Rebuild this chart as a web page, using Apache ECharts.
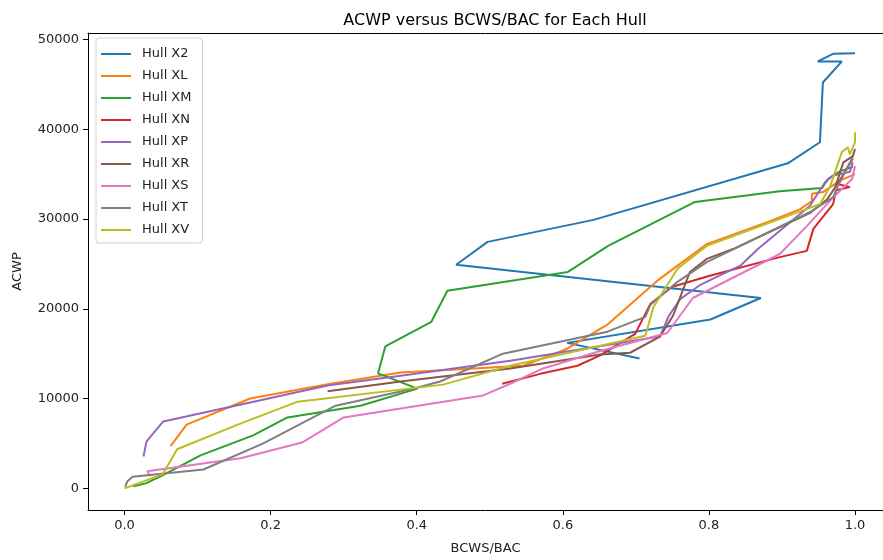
<!DOCTYPE html>
<html>
<head>
<meta charset="utf-8">
<script src="https://cdn.jsdelivr.net/npm/echarts@6/dist/echarts.min.js"></script>
<style>html,body{margin:0;padding:0;background:#fff}#chart{width:883px;height:560px}</style>
</head>
<body>
<div id="chart"></div>
<script>
var hullNames = ["Hull X2","Hull XL","Hull XM","Hull XN","Hull XP","Hull XR","Hull XS","Hull XT","Hull XV"];
var xTicks = [0, 0.2, 0.4, 0.6, 0.8, 1.0];
var yTicks = [0, 10000, 20000, 30000, 40000, 50000];

var hullX2 = [[0.705,14450],[0.606,16200],[0.802,18800],[0.871,21200],[0.454,24900],[0.497,27450],[0.642,29900],[0.908,36200],[0.952,38550],[0.956,45200],[0.982,47550],[0.949,47550],[0.97,48400],[1.0,48450]];
var hullXL = [[0.063,4700],[0.085,7100],[0.172,10000],[0.282,11650],[0.378,12900],[0.546,13650],[0.606,15550],[0.662,18300],[0.729,23100],[0.797,27200],[0.880,29650],[0.925,31100],[0.941,32000],[0.941,32800],[0.956,33000],[0.98,34300],[1.0,35000]];
var hullXM = [[0.012,220],[0.029,550],[0.052,1450],[0.104,3670],[0.176,5900],[0.223,7900],[0.323,9200],[0.401,11100],[0.347,12800],[0.357,15800],[0.420,18550],[0.442,22000],[0.607,24100],[0.662,27000],[0.781,31900],[0.897,33100],[0.955,33450],[0.963,34450],[0.979,35300],[0.997,35800]];
var hullXN = [[0.517,11650],[0.569,12750],[0.62,13650],[0.651,14800],[0.699,17200],[0.72,20550],[0.75,22450],[0.80,23650],[0.897,25750],[0.934,26450],[0.943,28900],[0.97,31650],[0.974,33200],[0.993,33550],[0.976,33900],[0.997,36700]];
var hullXP = [[0.026,3550],[0.03,5200],[0.053,7450],[0.186,9800],[0.278,11450],[0.378,12550],[0.528,14200],[0.733,16900],[0.745,19200],[0.761,21100],[0.788,22650],[0.843,24800],[0.867,26650],[0.938,31450],[0.959,34100],[0.969,34800],[0.993,35250],[0.997,36300]];
var hullXR = [[0.278,10800],[0.378,11900],[0.528,13350],[0.651,14900],[0.692,15100],[0.733,16900],[0.751,19250],[0.774,24100],[0.797,25550],[0.833,26650],[0.938,30650],[0.962,32200],[0.973,33550],[0.984,36300],[0.997,37000],[1.0,37800]];
var hullXS = [[0.036,1350],[0.031,1900],[0.159,3350],[0.243,5100],[0.30,7900],[0.491,10350],[0.528,11650],[0.573,13350],[0.651,15300],[0.743,17300],[0.778,21200],[0.897,26100],[0.934,29200],[0.97,32400],[0.996,34450],[1.0,35900]];
var hullXT = [[0.001,200],[0.004,800],[0.011,1300],[0.108,2100],[0.19,5000],[0.289,9200],[0.395,11100],[0.432,11900],[0.518,15000],[0.661,17450],[0.713,19100],[0.72,20450],[0.757,23000],[0.797,25200],[0.938,30750],[0.97,32400],[0.977,33750],[0.997,36900]];
var hullXV = [[0.0,0],[0.052,1550],[0.072,4350],[0.155,7100],[0.237,9650],[0.436,11550],[0.528,13650],[0.713,17000],[0.724,20200],[0.757,24450],[0.797,27000],[0.952,31650],[0.966,33650],[0.982,37450],[0.99,38000],[0.993,37200],[1.0,38550],[1.0,39650]];

var hullData = [hullX2, hullXL, hullXM, hullXN, hullXP, hullXR, hullXS, hullXT, hullXV];
var colors = ["#1f77b4","#ff7f0e","#2ca02c","#d62728","#9467bd","#8c564b","#e377c2","#7f7f7f","#bcbd22"];

var chart = echarts.init(document.getElementById('chart'), null, {renderer: 'canvas'});
var font = 'DejaVu Sans';
var series = hullNames.map(function(n, i){
  return {
    name: n, type: 'line', data: hullData[i], symbol: 'none', showSymbol: false,
    lineStyle: {width: 2, color: colors[i]}, itemStyle: {color: colors[i]},
    animation: false, z: 2 + i
  };
});
chart.setOption({
  animation: false,
  color: colors,
  title: {text: 'ACWP versus BCWS/BAC for Each Hull', left: 490, top: 8, textAlign: 'center',
    textStyle: {fontFamily: font, fontSize: 16, fontWeight: 'normal', color: '#000'}},
  grid: {left: 88, top: 33, right: 0, bottom: 48, show: false, containLabel: false},
  legend: {
    orient: 'vertical', left: 96, top: 38, data: hullNames,
    icon: 'rect', itemWidth: 30, itemHeight: 2, itemGap: 8,
    padding: [9, 11, 6, 5],
    backgroundColor: 'rgba(255,255,255,0.8)', borderColor: '#d0d0d0', borderWidth: 1, borderRadius: 3,
    textStyle: {fontFamily: font, fontSize: 13, color: '#222', lineHeight: 14, padding: [0, 0, 0, 6]}
  },
  xAxis: [{
    type: 'value', min: -0.05, max: 1.0383,
    name: 'BCWS/BAC', nameLocation: 'middle', nameGap: 32,
    nameTextStyle: {fontFamily: font, fontSize: 13, color: '#222'},
    axisLine: {show: true, onZero: false, lineStyle: {color: '#000', width: 1}},
    axisTick: {show: true, length: 5, lineStyle: {color: '#000'}, customValues: xTicks},
    axisLabel: {fontFamily: font, fontSize: 13, color: '#222', margin: 9, customValues: xTicks,
      formatter: function(v){ return v.toFixed(1); }},
    splitLine: {show: false}
  }, {
    type: 'value', position: 'top', min: -0.05, max: 1.0383,
    axisLine: {show: true, onZero: false, lineStyle: {color: '#000', width: 1}},
    axisTick: {show: false}, axisLabel: {show: false}, splitLine: {show: false}
  }],
  yAxis: {
    type: 'value', min: -2415, max: 50715,
    name: 'ACWP', nameLocation: 'middle', nameGap: 64, nameRotate: 90,
    nameTextStyle: {fontFamily: font, fontSize: 13, color: '#222'},
    axisLine: {show: true, onZero: false, lineStyle: {color: '#000', width: 1}},
    axisTick: {show: true, length: 5, lineStyle: {color: '#000'}, customValues: yTicks},
    axisLabel: {fontFamily: font, fontSize: 13, color: '#222', margin: 9, customValues: yTicks,
      formatter: function(v){ return String(v); }},
    splitLine: {show: false}
  },
  series: series
});
</script>
</body>
</html>
